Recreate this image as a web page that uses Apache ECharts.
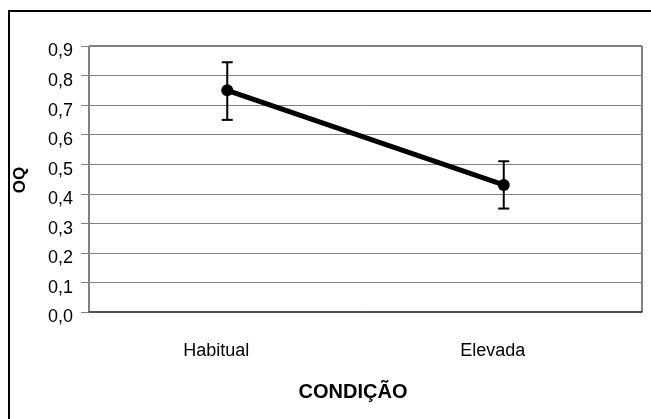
<!DOCTYPE html>
<html>
<head>
<meta charset="utf-8">
<script src="https://cdn.jsdelivr.net/npm/echarts@6/dist/echarts.min.js"></script>
<style>
html,body{margin:0;padding:0;background:#fff;}
#chart{width:651px;height:419px;}
</style>
</head>
<body>
<div id="chart"></div>
<script>
// Data
var categories = ['Habitual', 'Elevada'];
var meanValues = [0.75, 0.43];
var errorLow = [0.65, 0.35];
var errorHigh = [0.845, 0.51];
var yTickValues = [0, 0.1, 0.2, 0.3, 0.4, 0.5, 0.6, 0.7, 0.8, 0.9];
var xAxisTitle = 'CONDIÇÃO';
var yAxisTitle = 'OQ';

var font = '"Liberation Sans", Arial, sans-serif';
var chart = echarts.init(document.getElementById('chart'), null, {renderer: 'canvas'});

var errorData = categories.map(function (c, i) { return [i, errorLow[i], errorHigh[i]]; });

chart.setOption({
  animation: false,
  backgroundColor: '#fff',
  grid: {
    left: 89, right: 9, top: 46, bottom: 107,
    show: true, borderColor: '#000', borderWidth: 1, backgroundColor: 'transparent'
  },
  xAxis: {
    type: 'category',
    data: categories,
    boundaryGap: true,
    axisLine: {show: true, lineStyle: {color: '#404040', width: 1.5}},
    axisTick: {show: false},
    axisLabel: {
      color: '#000', fontFamily: font, fontSize: 18, margin: 30,
      padding: [0, 22, 0, 0]
    },
    splitLine: {show: false}
  },
  yAxis: {
    type: 'value',
    min: 0, max: 0.9, interval: 0.1,
    axisLine: {show: true, lineStyle: {color: '#808080', width: 1}},
    axisTick: {show: true, inside: false, length: 8, lineStyle: {color: '#808080'}},
    axisLabel: {
      color: '#000', fontFamily: font, fontSize: 18, margin: 16,
      verticalAlign: 'top', lineHeight: 11,
      formatter: function (v) {
        var ok = yTickValues.some(function (t) { return Math.abs(t - v) < 1e-9; });
        return ok ? v.toFixed(1).replace('.', ',') : '';
      }
    },
    splitLine: {show: true, lineStyle: {color: '#808080', width: 1}}
  },
  graphic: [
    {
      type: 'rect', silent: true, z: 100,
      shape: {x: 9, y: 11, width: 700, height: 500},
      style: {fill: 'none', stroke: '#000', lineWidth: 2}
    },
    {
      type: 'text', z: 100,
      x: 353, y: 392,
      style: {text: xAxisTitle, font: 'bold 20px ' + font, fill: '#000', textAlign: 'center', textVerticalAlign: 'middle'}
    },
    {
      type: 'text', z: 100,
      x: 20, y: 180, rotation: Math.PI / 2,
      style: {text: yAxisTitle, font: 'bold 17px ' + font, fill: '#000', textAlign: 'center', textVerticalAlign: 'middle'}
    }
  ],
  series: [
    {
      type: 'custom',
      z: 3,
      data: errorData,
      renderItem: function (params, api) {
        var x = api.value(0);
        var lo = api.coord([x, api.value(1)]);
        var hi = api.coord([x, api.value(2)]);
        var hw = 5.5;
        var st = {stroke: '#000', lineWidth: 2};
        return {
          type: 'group',
          children: [
            {type: 'line', shape: {x1: lo[0], y1: lo[1], x2: hi[0], y2: hi[1]}, style: st},
            {type: 'line', shape: {x1: lo[0] - hw, y1: lo[1], x2: lo[0] + hw, y2: lo[1]}, style: st},
            {type: 'line', shape: {x1: hi[0] - hw, y1: hi[1], x2: hi[0] + hw, y2: hi[1]}, style: st}
          ]
        };
      }
    },
    {
      type: 'line',
      z: 4,
      data: meanValues,
      symbol: 'circle',
      symbolSize: 12,
      lineStyle: {color: '#000', width: 5},
      itemStyle: {color: '#000'}
    }
  ]
});
</script>
</body>
</html>
